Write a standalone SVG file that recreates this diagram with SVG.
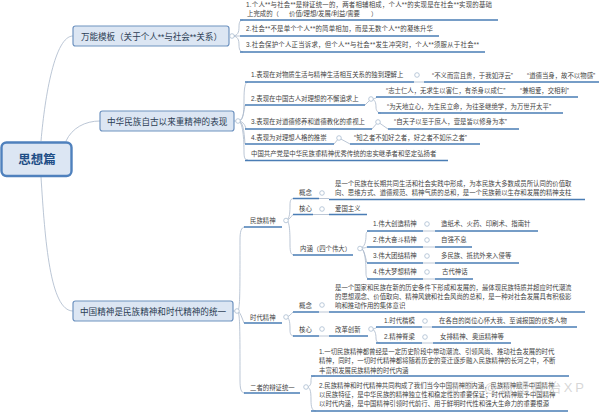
<svg xmlns="http://www.w3.org/2000/svg" width="600" height="412" viewBox="0 0 600 412">
<style>
text{font-family:"Liberation Sans","Noto Sans CJK SC",sans-serif;fill:#444;font-size:6.4px}
.l1{font-size:8.6px;fill:#2c3e55}
.root{font-size:12.500px;font-weight:700;fill:#1f4e86}
.box{fill:#dce6f3;stroke:#6f93c0;stroke-width:1.2}
.rootbox{fill:#dce6f3;stroke:#4f81bd;stroke-width:2.4}
.u{stroke:#4a7db5;stroke-width:1.4;fill:none}
.c{stroke:#a9b8ca;stroke-width:.8;fill:none}
.o{fill:#fff;stroke:#a9bcd0;stroke-width:.8}
.wm{font-size:13px;fill:#c6c6c6;fill-opacity:.7}
</style>
<g id="connectors">
<path class="c" d="M41 141C45 95 55 36 73 36"/>
<path class="c" d="M66 141C72 128 85 121 100 121"/>
<path class="c" d="M41 177C45 240 50 311 73 311"/>
<path class="c" d="M232 36C238 36 239 32 239 27C239 22 240 20 243 20M232 36H240M232 36C238 36 239 40 239 45C239 49 240 52 243 52"/>
<path class="c" d="M238 121C243 121 244 115 244 100C244 88 245 82 248 82M238 121C241 121 243 119 245 105M238 121C242 121 245 124 246 129M238 121C243 121 244 130 245 144M238 121C243 121 244 140 244 152C244 158 245 160 248 160"/>
<path class="c" d="M371 99C375 99 376 98 377 97M371 99C375 99 376 103 376 107C376 111 378 113 381 113"/>
<path class="c" d="M414 82H424M365 105L371 99M372 129L378 122L388 129M334 144L339 138L350 144"/>
<path class="c" d="M237 311C240 311 240 300 240 240C240 232 241 227 245 227M237 311C240 311 242 318 244 323M237 311C240 311 240 325 240 380C240 389 241 393 245 393"/>
<path class="c" d="M286 220C290 220 290 210 290 205C290 200 291 198.500 294 198.500M286 220C289 220 291 217 293 214.500M286 220C290 220 290 235 290 245C290 252 291 255 294 255"/>
<path class="c" d="M360 248C365 248 366 240 366 236C366 232 367 231 370 231M360 248C364 248 365 248 367 247M360 248C364 248 365 256 367 263M360 248C365 248 366 262 366 273C366 277 367 279 370 279"/>
<path class="c" d="M319 198.500H329M313 214.500H329M423 231H435M423 247H435M423 263H435M423 279H435"/>
<path class="c" d="M286 317C289 317 291 314 293 312M286 317C290 317 290 325 290 330C290 334 291 336 294 336"/>
<path class="c" d="M319 312H329M319 336H329M371 329C375 329 376 328 377 327M371 329C375 329 376 334 376 338C376 341 377 343 380 343M422 327H432M422 343H433"/>
<path class="c" d="M306 387C310 387 311 384 311 382C311 378 311 376 315 376M306 387C310 387 311 390 311 400C311 407 312 411 316 411"/>
<path class="c" d="M229 36H232M234 121H238M233 311H237"/>
<path class="u" d="M240 20H498M240 36H439M240 52H485M245 82H414M424 82H599M245 105H365M376 97H578M378 113H563M245 129H372M388 129H519M245 144H334M350 144H480M245 160.500H448"/>
<path class="u" d="M244 227H282M293 198.500H319M329 199.500H585M293 214.500H313M329 214.500H367M293 255H353M367 231H423M435 231H538M367 247H423M435 247H472M367 263H423M435 263H519M367 279H423M435 279H473"/>
<path class="u" d="M244 323H282M293 312H319M329 312H585M293 336H319M329 336H368M376 327H422M432 327H577M376 343H422M433 343H511M244 393H300M311 376H569M311 411H568"/>
</g>
<g id="root"><rect class="rootbox" x="1.500" y="142.500" width="70" height="33.500" rx="5"/><text class="root" x="37" y="164" text-anchor="middle">思想篇</text></g>
<g id="node-a">
<rect class="box" x="73" y="26" width="156" height="20" rx="2.500"/><text class="l1" x="81" y="39.500" textLength="141">万能模板（关于个人**与社会**关系）</text><circle class="o" cx="232" cy="36" r="2.300"/>
<text x="246" y="7" textLength="246">1.个人**与社会**是辩证统一的，两者相辅相成，个人**的实现是在社会**实现的基础</text>
<text x="247" y="16">上完成的（<tspan x="289">价值/理想/发展/利益/需要</tspan><tspan x="371">）</tspan></text>
<text x="246" y="31" textLength="187">2.社会**不是单个个人**的简单相加，而是无数个人**的凝练升华</text>
<text x="246" y="47" textLength="233">3.社会保护个人正当诉求，但个人**与社会**发生冲突时，个人**须服从于社会**</text>
</g>
<g id="node-b">
<rect class="box" x="100" y="111" width="134" height="20" rx="2.500"/><text class="l1" x="107" y="124.500">中华民族自古以来重精神的表现</text><circle class="o" cx="238" cy="121" r="2.300"/>
<text x="251" y="77">1.表现在对物质生活与精神生活相互关系的独到理解上</text><circle class="o" cx="417" cy="75" r="2.300"/>
<text x="432" y="77.500">“不义而富且贵，于我如浮云”<tspan x="527">“道德当身，故不以物感”</tspan></text>
<text x="251" y="101">2.表现在中国古人对理想的不懈追求上</text><circle class="o" cx="371" cy="99" r="2.300"/>
<text x="386" y="92.500">“志士仁人，无求生以害仁，有杀身以成仁”<tspan x="520">“兼相爱，交相利”</tspan></text>
<text x="387" y="109">“为天地立心，为生民立命，为往圣继绝学，为万世开太平”</text>
<text x="251" y="124">3.表现在对道德修养和道德教化的重视上</text><circle class="o" cx="378" cy="122" r="2.300"/>
<text x="394" y="124">“自天子以至于庶人，壹是皆以修身为本”</text>
<text x="251" y="140">4.表现为对理想人格的推崇</text><circle class="o" cx="339" cy="138" r="2.300"/>
<text x="354" y="140">“知之者不如好之者，好之者不如乐之者”</text>
<text x="251" y="156">中国共产党是中华民族重精神优秀传统的忠实继承者和坚定弘扬者</text>
</g>
<g id="node-c">
<rect class="box" x="73" y="301" width="160" height="20" rx="2.500"/><text class="l1" x="80" y="314.500">中国精神是民族精神和时代精神的统一</text><circle class="o" cx="237" cy="311" r="2.300"/>
<text x="250" y="223">民族精神</text><circle class="o" cx="286" cy="220.500" r="2.300"/>
<text x="299" y="195">概念</text><circle class="o" cx="322" cy="193" r="2.300"/>
<text x="335" y="186">是一个民族在长期共同生活和社会实践中形成，为本民族大多数成员所认同的价值取</text>
<text x="335" y="195">向、思维方式、道德规范、精神气质的总和，是一个民族赖以生存和发展的精神支柱</text>
<text x="299" y="211">核心</text><circle class="o" cx="322" cy="209" r="2.300"/>
<text x="335" y="211">爱国主义</text>
<text x="300" y="250.500">内涵（四个伟大）</text><circle class="o" cx="360" cy="248.500" r="2.300"/>
<text x="373" y="226">1.伟大创造精神</text><circle class="o" cx="427" cy="224" r="2.300"/><text x="441" y="226">造纸术、火药、印刷术、指南针</text>
<text x="373" y="242">2.伟大奋斗精神</text><circle class="o" cx="427" cy="240" r="2.300"/><text x="441" y="242">自强不息</text>
<text x="373" y="258">3.伟大团结精神</text><circle class="o" cx="427" cy="256" r="2.300"/><text x="441" y="258">多民族、抵抗外来入侵等</text>
<text x="373" y="274">4.伟大梦想精神</text><circle class="o" cx="427" cy="272" r="2.300"/><text x="442" y="274">古代神话</text>
<text x="250" y="319.500">时代精神</text><circle class="o" cx="286" cy="317" r="2.300"/>
<text x="299" y="308">概念</text><circle class="o" cx="322" cy="305" r="2.300"/>
<text x="335" y="290">是一个国家和民族在新的历史条件下形成和发展的，最体现民族特质并超应时代潮流</text>
<text x="335" y="299">的思想观念、价值取向、精神风貌和社会风尚的总和，是一种对社会发展具有积极影</text>
<text x="335" y="308">响和推动作用的集体意识</text>
<text x="299" y="331.500">核心</text><circle class="o" cx="322" cy="329" r="2.300"/>
<text x="335" y="331.500">改革创新</text><circle class="o" cx="371" cy="329" r="2.300"/>
<text x="384" y="323">1.时代楷模</text><circle class="o" cx="425" cy="321" r="2.300"/><text x="439" y="323">在各自的岗位心怀大我、至诚报国的优秀人物</text>
<text x="384" y="339">2.精神脊梁</text><circle class="o" cx="425" cy="337" r="2.300"/><text x="440" y="339">女排精神、奥运精神等</text>
<text x="250" y="389.500">二者的辩证统一</text><circle class="o" cx="306" cy="387" r="2.300"/>
<text x="319" y="354">1.一切民族精神都曾经是一定历史阶段中带动潮流、引领风尚、推动社会发展的时代</text>
<text x="319" y="363">精神，同时，一切时代精神都将随着历史的变迁逐步融入民族精神的长河之中，不断</text>
<text x="319" y="372.500">丰富和发展民族精神的时代内涵</text>
<text x="319" y="388">2.民族精神和时代精神共同构成了我们当今中国精神的内涵，民族精神赋予中国精神</text>
<text x="319" y="397">以民族特征，是中华民族的精神独立性和稳定性的重要保证；时代精神赋予中国精神</text>
<text x="319" y="406">以时代内涵，是中国精神引领时代前行、用于鲜明时代性和强大生命力的重要根源</text>
</g>
<text class="wm" x="446" y="392" textLength="138">知乎 @思想政治XP</text>
</svg>
